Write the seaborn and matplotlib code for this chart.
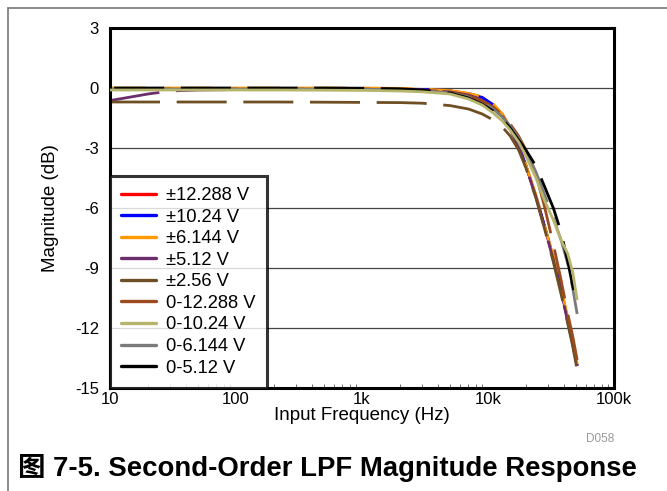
import numpy as np
import pandas as pd
import seaborn as sns
import matplotlib
matplotlib.use("Agg")
import matplotlib.pyplot as plt
from matplotlib.lines import Line2D
from matplotlib.ticker import LogLocator, NullFormatter

# input frequency (Hz)
freq = [10, 20, 30, 50, 100, 200, 500, 1000, 2000, 3000, 5000, 7000, 9000, 11000,
        13000, 15000, 17500, 20000, 24000, 28000, 33000, 38000, 43000, 47000, 51000]

ranges = ["±12.288 V", "±10.24 V", "±6.144 V", "±5.12 V", "±2.56 V",
          "0-12.288 V", "0-10.24 V", "0-6.144 V", "0-5.12 V"]

# magnitude (dB) per input range
mag_pm12288 = [-0.05, -0.05, -0.05, -0.05, -0.05, -0.05, -0.05, -0.05, -0.06, -0.08, -0.14, -0.28, -0.48,
               -0.85, -1.35, -2.0, -2.9, -3.9, -5.4, -6.9, -8.5, -10.1, -11.6, -12.7, -13.9]
mag_pm1024 = [-0.04, -0.04, -0.04, -0.04, -0.04, -0.04, -0.04, -0.04, -0.05, -0.07, -0.13, -0.27, -0.47,
              -0.84, -1.33, -1.98, -2.88, -3.88, -5.38, -6.88, -8.48, -10.1, -11.6, -12.7, -13.9]
mag_pm6144 = [0.0, 0.0, 0.0, 0.0, 0.0, 0.0, 0.0, 0.0, -0.02, -0.05, -0.13, -0.27, -0.43,
              -0.8, -1.3, -1.95, -2.85, -3.85, -5.35, -6.85, -8.45, -10.0, -11.5, -12.6, -13.8]
mag_pm512 = [-0.63, -0.3, -0.15, -0.1, -0.08, -0.08, -0.08, -0.08, -0.09, -0.11, -0.2, -0.35, -0.6,
             -0.95, -1.4, -2.05, -2.95, -3.95, -5.45, -6.95, -8.6, -10.2, -11.7, -12.8, -14.0]
mag_pm256 = [-0.7, -0.7, -0.7, -0.7, -0.7, -0.7, -0.71, -0.72, -0.73, -0.76, -0.88, -1.05, -1.3,
             -1.6, -1.95, -2.4, -3.1, -4.0, -5.5, -7.0, -8.7, -10.3, -11.8, -12.9, -14.1]
mag_u12288 = [-0.05, -0.05, -0.05, -0.05, -0.05, -0.05, -0.05, -0.05, -0.07, -0.1, -0.2, -0.4, -0.65,
              -0.95, -1.35, -1.8, -2.4, -3.1, -4.3, -5.9, -7.8, -9.6, -11.3, -12.4, -13.6]
mag_u1024 = [-0.1, -0.1, -0.1, -0.1, -0.1, -0.1, -0.11, -0.12, -0.15, -0.19, -0.3, -0.55, -0.85,
             -1.25, -1.65, -2.1, -2.7, -3.4, -4.5, -5.6, -6.6, -7.6, -8.3, -9.2, -10.6]
mag_u6144 = [-0.05, -0.05, -0.05, -0.05, -0.05, -0.05, -0.05, -0.06, -0.08, -0.12, -0.25, -0.45, -0.7,
             -1.05, -1.45, -1.9, -2.5, -3.1, -4.2, -5.3, -6.5, -7.6, -8.8, -10.0, -11.3]
mag_u512 = [0.0, 0.0, 0.0, 0.0, 0.0, 0.0, 0.0, -0.01, -0.04, -0.1, -0.25, -0.5, -0.8,
            -1.15, -1.55, -2.0, -2.6, -3.1, -3.9, -4.9, -6.0, -7.2, -8.7, -9.9, -10.8]

colors = ["#ff0000", "#0000ff", "#ff9900", "#6b2d6b", "#6e4f24",
          "#9c4a1e", "#b7b56c", "#7a7a7a", "#000000"]

all_mags = [mag_pm12288, mag_pm1024, mag_pm6144, mag_pm512, mag_pm256,
            mag_u12288, mag_u1024, mag_u6144, mag_u512]

df = pd.concat([pd.DataFrame({"freq": freq, "mag": m, "range": r})
                for r, m in zip(ranges, all_mags)], ignore_index=True)

sns.set_style("white")
plt.rcParams["font.family"] = ["Liberation Sans", "Noto Sans CJK SC"]
plt.rcParams["lines.scale_dashes"] = False
for key in ["text.color", "axes.labelcolor", "xtick.color", "ytick.color"]:
    plt.rcParams[key] = "black"

fig = plt.figure(figsize=(6.67, 4.91), dpi=100)
ax = fig.add_axes([110 / 667, 1 - 388 / 491, 504 / 667, 360 / 491])

sns.lineplot(data=df, x="freq", y="mag", hue="range", hue_order=ranges,
             palette=colors, linewidth=2.0, legend=False, errorbar=None, ax=ax)

# dash phases per series (offset in points)
offsets = [20, 30, 10, 0, 0, 40, None, 15, 45]
for line, off in zip(ax.get_lines(), offsets):
    if off is None:
        line.set_linestyle("-")
        line.set_zorder(5)
    else:
        line.set_linestyle((off, (36, 12)))
    line.set_solid_capstyle("butt")
    line.set_dash_capstyle("butt")

ax.set_xscale("log")
ax.set_xlim(10, 100000)
ax.set_ylim(-15, 3)
ax.set_xticks([10, 100, 1000, 10000, 100000])
ax.set_xticklabels(["10", "100", "1k", "10k", "100k"])
ax.xaxis.set_minor_locator(LogLocator(base=10, subs=np.arange(2, 10)))
ax.xaxis.set_minor_formatter(NullFormatter())
ax.set_yticks(np.arange(-15, 4, 3))
ax.set_yticklabels([str(v) for v in range(-15, 4, 3)])
ax.tick_params(axis="both", which="major", labelsize=12, length=0)
ax.tick_params(axis="x", which="major", pad=3)
ax.tick_params(axis="y", which="major", pad=8)
ax.tick_params(axis="x", which="minor", direction="in", length=3, width=0.6,
               bottom=True, colors="#555555")
ax.grid(axis="y", color="#444444", linewidth=0.9)
ax.set_axisbelow(True)
for s in ax.spines.values():
    s.set_linewidth(2.2)
    s.set_color("black")

ax.set_xlabel("Input Frequency (Hz)", fontsize=13.5, labelpad=0)
ax.set_ylabel("Magnitude (dB)", fontsize=13.5, labelpad=11)

handles = [Line2D([0], [0], color=c, lw=2.4) for c in colors]
leg = ax.legend(handles, ranges, loc="lower left", bbox_to_anchor=(0, 0),
                borderaxespad=0, fontsize=13.2, frameon=True, fancybox=False,
                handlelength=1.9, handletextpad=0.55, labelspacing=0.25,
                borderpad=0.62)
leg.get_frame().set_edgecolor("black")
leg.get_frame().set_linewidth(2.2)
leg.set_zorder(10)

# outer frame
fig.add_artist(Line2D([8 / 667, 1], [1 - 8 / 491, 1 - 8 / 491], color="#777777", lw=1.2))
fig.add_artist(Line2D([8 / 667, 8 / 667], [0, 1 - 8 / 491], color="#777777", lw=1.2))

fig.text(600 / 667, 1 - 439 / 491, "D058", fontsize=8.5, color="#999999", ha="center", va="center")
fig.text(18 / 667, 1 - 468 / 491, "图 7-5. Second-Order LPF Magnitude Response",
         fontsize=19.8, fontweight="bold", ha="left", va="center")

fig.savefig("out.png", dpi=100)
